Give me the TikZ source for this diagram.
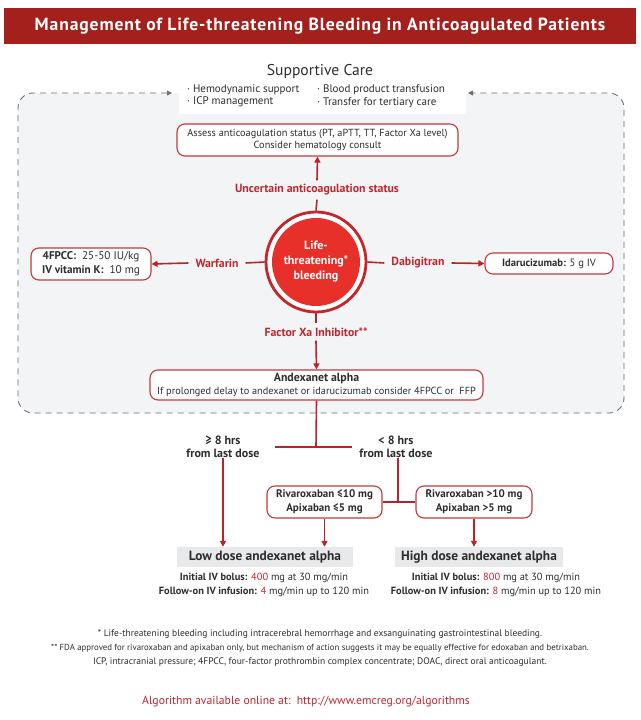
\documentclass[tikz,border=0pt]{standalone}
\usepackage{fontspec}
\setmainfont{PT Sans}
\usetikzlibrary{arrows.meta}
\definecolor{titlered}{HTML}{A3201D}
\definecolor{labred}{HTML}{C1272D}
\definecolor{arrred}{HTML}{B8242A}
\definecolor{circred}{HTML}{E8302B}
\definecolor{ringred}{HTML}{C4262B}
\definecolor{boxred}{HTML}{C43A3A}
\definecolor{txt}{HTML}{2E2E2E}
\definecolor{lightbg}{HTML}{F3F4F6}
\definecolor{graybox}{HTML}{E8E9EB}
\definecolor{dashgray}{HTML}{707070}
\newcommand{\fs}[2]{\fontsize{#1}{#2}\selectfont}
\begin{document}
\begin{tikzpicture}[x=1pt,y=-1pt,
  box/.style={draw=boxred, line width=1.1pt, rounded corners=8pt, fill=white, align=center, text=txt, inner sep=0pt},
  lab/.style={text=labred, font=\fs{11.8}{13}\bfseries, inner xsep=7pt, inner ysep=4pt},
  con/.style={draw=arrred, line width=1.6pt},
  arr/.style={con, -{Triangle[length=6pt,width=6pt]}},
  dashline/.style={draw=dashgray, line width=0.9pt, dash pattern=on 6pt off 5pt},
  plain/.style={text=txt, align=center, inner sep=0pt},
  dosebox/.style={fill=graybox, text=txt, font=\fs{13.4}{15}\bfseries, inner sep=0pt},
]
\useasboundingbox (0,0) rectangle (640,720);
\fill[white] (0,0) rectangle (640,720);
% title
\node[fill=titlered, minimum width=632, minimum height=36, inner sep=0pt, text=white, font=\fs{17.6}{19}\bfseries\addfontfeature{LetterSpace=5}] (title) at (320,26) {Management of Life-threatening Bleeding in Anticoagulated Patients};
% background region
\fill[lightbg, rounded corners=15pt] (18,93) rectangle (624,413);
\fill[white] (179,82) rectangle (466,114);
\node[plain, font=\fs{15.6}{17}] (sc) at (320,72) {Supportive Care};
\node[plain, anchor=west, align=left, font=\fs{11}{12.5}] (b1) at (187,96) {· Hemodynamic support\\· ICP management};
\node[plain, anchor=west, align=left, font=\fs{11}{12.5}] (b2) at (317,96) {· Blood product transfusion\\· Transfer for tertiary care};
\coordinate (dl) at (172,93);
\coordinate (dr) at (468,93);
\draw[dashline, rounded corners=15pt, {Triangle[length=5pt,width=5pt]}-{Triangle[length=5pt,width=5pt]}] (dl) -- (18,93) -- (18,413) -- (624,413) -- (624,93) -- (dr);
% nodes
\node[box, minimum width=281, minimum height=32, font=\fs{10.3}{12}] (assess) at (317.5,140) {Assess anticoagulation status (PT, aPTT, TT, Factor Xa level)\\Consider hematology consult};
\node[lab] (unc) at (317,190) {Uncertain anticoagulation status};
\node[circle, draw=ringred, line width=2.8pt, fill=white, minimum size=100, inner sep=0pt] (ltb) at (316,262) {};
\node[circle, fill=circred, minimum size=88, inner sep=0pt, text=white, align=center, font=\fs{12}{15}\bfseries] (ltbin) at (316,262) {Life-\\threatening*\\bleeding};
\node[lab] (warf) at (217,263) {Warfarin};
\node[lab] (dabi) at (418,263) {Dabigitran};
\node[lab] (fxa) at (316,332) {Factor Xa Inhibitor**};
\node[box, minimum width=120, minimum height=32, font=\fs{11.2}{14}] (fpcc) at (91,264) {\textbf{4FPCC:}\ \ 25-50 IU/kg\\\textbf{IV vitamin K:}\ \ 10 mg};
\node[box, minimum width=128, minimum height=21, font=\fs{10.6}{12}] (ida) at (549,263.5) {\textbf{Idarucizumab:} 5 g IV};
\node[box, minimum width=333, minimum height=30, font=\fs{10.3}{12.5}] (andx) at (316.5,385) {\textbf{\fs{11.8}{12.5}Andexanet alpha}\\If prolonged delay to andexanet or idarucizumab consider 4FPCC or\ \ FFP};
\node[plain, font=\fs{12}{13}\bfseries] (ge) at (223,446.5) {≥ 8 hrs\\from last dose};
\node[plain, font=\fs{12}{13}\bfseries] (lt) at (396,446.5) {< 8 hrs\\from last dose};
\coordinate (split) at (316,447);
\coordinate (hl) at (275,447);
\coordinate (hr) at (352,447);
\node[box, minimum width=115, minimum height=32, font=\fs{11}{14}\bfseries] (r1) at (324.5,502) {Rivaroxaban ≤10 mg\\Apixaban ≤5 mg};
\node[box, minimum width=116, minimum height=32, font=\fs{11}{14}\bfseries] (r2) at (474,502) {Rivaroxaban >10 mg\\Apixaban >5 mg};
\coordinate (jn) at (398,502);
\node[dosebox, minimum width=176, minimum height=20] (low) at (265,557) {Low dose andexanet alpha};
\node[dosebox, minimum width=168, minimum height=20] (high) at (479,557) {High dose andexanet alpha};
\node[plain, font=\fs{10.4}{14}] (lowd) at (264,585) {\textbf{Initial IV bolus:} \textcolor{labred}{400} mg at 30 mg/min\\\textbf{Follow-on IV infusion:} \textcolor{labred}{4} mg/min up to 120 min};
\node[plain, font=\fs{10.4}{14}] (highd) at (496,585) {\textbf{Initial IV bolus:} \textcolor{labred}{800} mg at 30 mg/min\\\textbf{Follow-on IV infusion:} \textcolor{labred}{8} mg/min up to 120 min};
% connectors
\draw[con] (ltb.north) -- (unc.south);
\draw[arr] (unc.north) -- (assess.south);
\draw[con] (ltb.west) -- (warf.east);
\draw[arr] (warf.west) -- (fpcc.east);
\draw[con] (ltb.east) -- (dabi.west);
\draw[arr] (dabi.east) -- (ida.west);
\draw[con] (ltb.south) -- (fxa.north);
\draw[arr] (fxa.south) -- (andx.north);
\draw[con] (andx.south) -- (split);
\draw[con] (hl) -- (hr);
\draw[arr] (ge.south) -- (ge.south |- low.north);
\draw[con] (lt.south -| jn) -- (jn);
\draw[con] (r1.east) -- (r2.west);
\draw[arr] (r1.south) -- (r1.south |- low.north);
\draw[arr] (r2.south) -- (r2.south |- high.north);
% footnotes
\node[plain, font=\fs{9.5}{14.2}] (foot) at (320,648) {* Life-threatening bleeding including intracerebral hemorrhage and exsanguinating gastrointestinal bleeding.\\{\fs{8.8}{14.2}** FDA approved for rivaroxaban and apixaban only, but mechanism of action suggests it may be equally effective for edoxaban and betrixaban.}\\ICP, intracranial pressure; 4FPCC, four-factor prothrombin complex concentrate; DOAC, direct oral anticoagulant.};
\node[plain, text=labred, font=\fs{11.7}{13}] (algo) at (306,702) {Algorithm available online at:\ \ http://www.emcreg.org/algorithms};
\end{tikzpicture}
\end{document}
